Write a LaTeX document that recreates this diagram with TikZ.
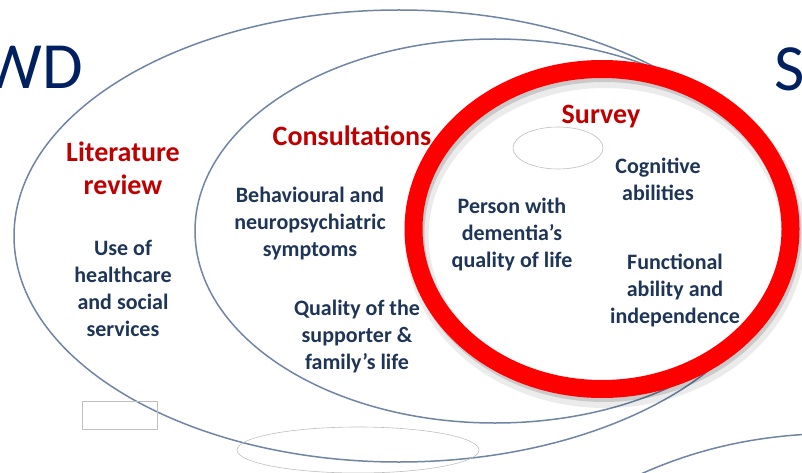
\documentclass[tikz,border=0pt]{standalone}
\usepackage{fontspec}
\setmainfont{Carlito}
\usetikzlibrary{shapes.geometric,positioning}
\definecolor{navy}{HTML}{1F3557}
\definecolor{titlered}{HTML}{C00000}
\definecolor{slidenavy}{HTML}{002060}
\definecolor{rimblue}{HTML}{6F85A3}

\begin{document}
\begin{tikzpicture}[x=1pt,y=-1pt]
  \tikzstyle{rim}=[ellipse,draw=rimblue,line width=1.5pt,inner sep=0pt,outer sep=0pt]
  \tikzstyle{faint}=[draw=black!25,line width=0.6pt,inner sep=0pt]
  \tikzstyle{ring}=[ellipse,inner sep=0pt,minimum width=377pt,minimum height=320pt]
  \tikzstyle{heading}=[align=center,text=titlered,font=\bfseries\fontsize{28}{33}\selectfont]
  \tikzstyle{topic}=[align=center,text=navy,font=\bfseries\fontsize{22}{27}\selectfont]
  \tikzstyle{slidetext}=[text=slidenavy,inner sep=0pt,font=\fontsize{66}{70}\selectfont]

  \path[use as bounding box,clip] (0,0) rectangle (802,473);

  % slide title letters, cut by the crop
  \node[slidetext,anchor=base east] (wd) at (83,89) {WD};
  \node[slidetext,anchor=base west] (s) at (774,91) {S};

  \node[rim,minimum width=770pt,minimum height=452pt] (lit) at (399,236) {};
  \node[rim,minimum width=600pt,minimum height=384pt] (cons) at (495,231) {};
  \node[faint,ellipse,minimum width=242pt,minimum height=46pt] (blankA) at (358,450) {};
  \node[faint,minimum width=75pt,minimum height=28pt] (blankB) at (119.5,415) {};
  \coordinate (tailA) at (628,480);
  \coordinate (tailB) at (812,434);
  \draw[rimblue,line width=1.5pt] (tailA) .. controls (690,450) and (750,437) .. (tailB);

  % survey ring with its shadow
  \node[ring,fill=white] (surveybg) at (602,229) {};
  \node[ring,draw=black,opacity=.08,line width=24pt] at (605,236) {};
  \node[ring,draw=black,opacity=.14,line width=18pt] at (604,233) {};
  \node[ring,draw=red,line width=18pt] (survey) at (602,229) {};

  \node[heading] (litT) at (123,168) {Literature\\review};
  \node[topic] (litB) at (123,288) {Use of\\healthcare\\and social\\services};
  \node[heading] (consT) at (352,136) {Consultations};
  \node[topic] (consA) at (310,224) {Behavioural and\\neuropsychiatric\\symptoms};
  \node[topic] (consB) at (357,337) {Quality of the\\supporter \&\\family’s life};
  \node[heading] (survT) at (601,117) {Survey};
  \node[faint,ellipse,minimum width=90pt,minimum height=42pt] (blankC) at (558,148) {};
  \node[topic] (survA) at (658,179) {Cognitive\\abilities};
  \node[topic] (survB) at (512,235) {Person with\\dementia’s\\quality of life};
  \node[topic] (survC) at (675,290) {Functional\\ability and\\independence};
\end{tikzpicture}
\end{document}
